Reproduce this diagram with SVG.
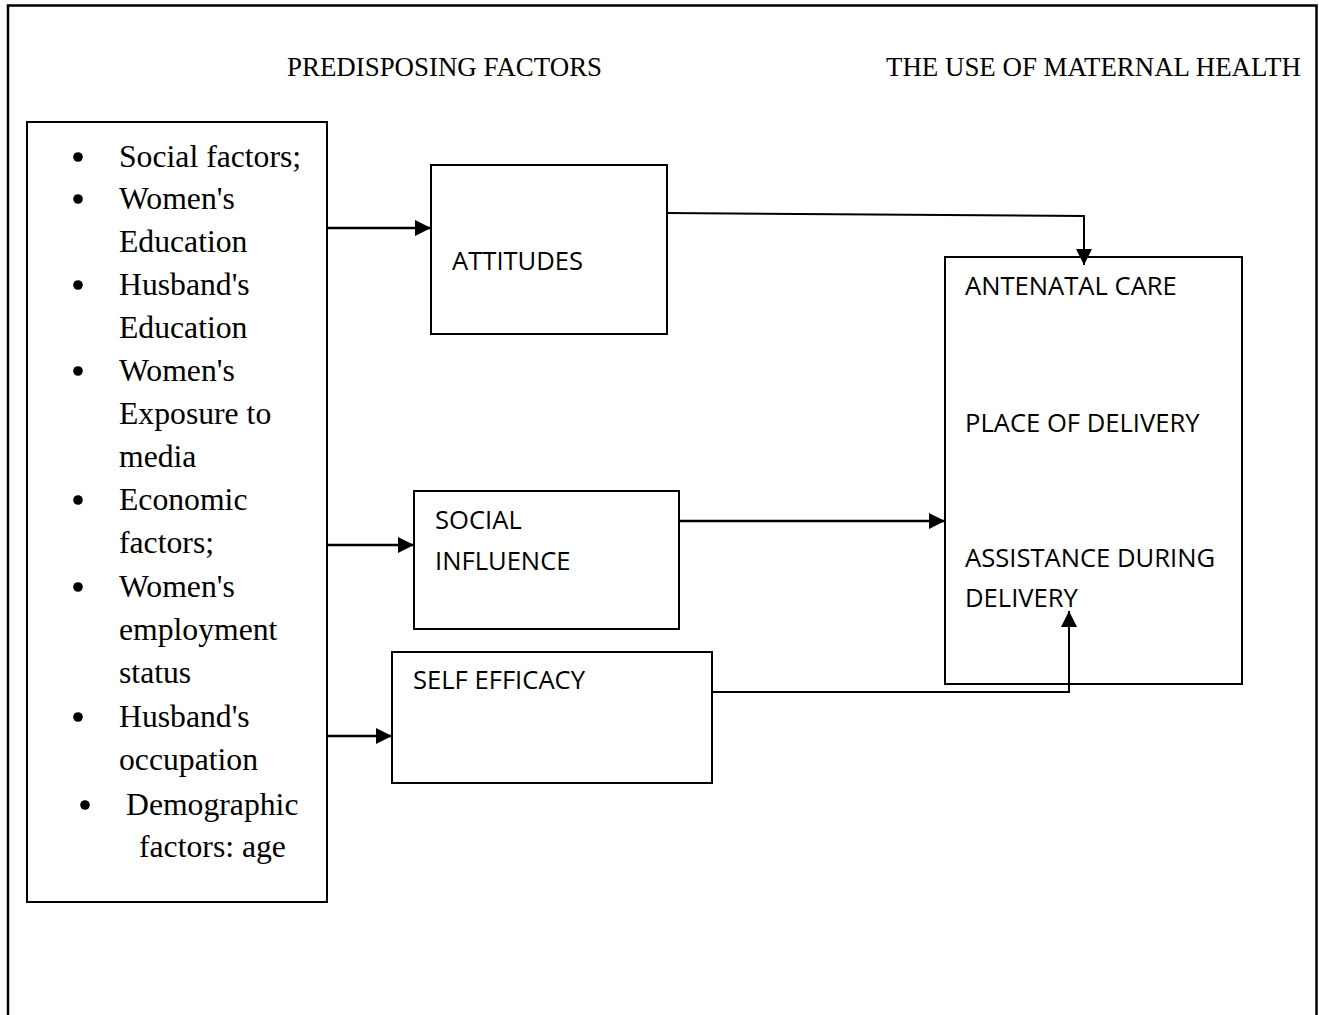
<svg xmlns="http://www.w3.org/2000/svg" width="1319" height="1015" viewBox="0 0 1319 1015">
<style>
.box{fill:#fff;stroke:#000;stroke-width:2}
.tnr{font-family:"Liberation Serif","Times New Roman",serif;fill:#000}
.lst{font-size:31.7px}
.hd{font-size:26.9px}
.cal{font-family:"Open Sans","Noto Sans",sans-serif;font-size:25.6px;fill:#000}
.con{fill:none;stroke:#000;stroke-width:2.5}
.thin{fill:none;stroke:#000;stroke-width:2}
</style>
<defs>
<marker id="ah" markerWidth="16" markerHeight="16" viewBox="0 0 16 16" refX="16" refY="8" orient="auto" markerUnits="userSpaceOnUse">
<path d="M0,0 L16,8 L0,16 Z" fill="#000"/>
</marker>
</defs>
<rect width="1319" height="1015" fill="#fff"/>
<path d="M8,1015 V5.5 H1316.5 V1015" fill="none" stroke="#000" stroke-width="2.5"/>
<g id="headings">
<text class="tnr hd" x="287" y="76">PREDISPOSING FACTORS</text>
<text class="tnr hd" x="886" y="76">THE USE OF MATERNAL HEALTH</text>
</g>
<g id="predisposing">
<rect class="box" x="27" y="122" width="300" height="780"/>
<g fill="#000">
<circle cx="78" cy="157" r="4.8"/>
<circle cx="78" cy="199" r="4.8"/>
<circle cx="78" cy="285" r="4.8"/>
<circle cx="78" cy="371" r="4.8"/>
<circle cx="78" cy="500" r="4.8"/>
<circle cx="78" cy="587" r="4.8"/>
<circle cx="78" cy="717" r="4.8"/>
<circle cx="85" cy="805" r="4.8"/>
</g>
<g class="tnr lst">
<text x="119" y="167">Social factors;</text>
<text x="119" y="209">Women's</text>
<text x="119" y="252">Education</text>
<text x="119" y="295">Husband's</text>
<text x="119" y="338">Education</text>
<text x="119" y="381">Women's</text>
<text x="119" y="424">Exposure to</text>
<text x="119" y="467">media</text>
<text x="119" y="510">Economic</text>
<text x="119" y="553">factors;</text>
<text x="119" y="597">Women's</text>
<text x="119" y="640">employment</text>
<text x="119" y="683">status</text>
<text x="119" y="727">Husband's</text>
<text x="119" y="770">occupation</text>
<text x="126" y="815">Demographic</text>
<text x="139" y="857">factors: age</text>
</g>
</g>
<g id="attitudes">
<rect class="box" x="431" y="165" width="236" height="169"/>
<text class="cal" x="452" y="270">ATTITUDES</text>
</g>
<g id="social-influence">
<rect class="box" x="414" y="491" width="265" height="138"/>
<text class="cal" x="435" y="529">SOCIAL</text>
<text class="cal" x="435" y="570">INFLUENCE</text>
</g>
<g id="self-efficacy">
<rect class="box" x="392" y="652" width="320" height="131"/>
<text class="cal" x="413" y="689">SELF EFFICACY</text>
</g>
<g id="maternal-health">
<rect class="box" x="945" y="257" width="297" height="427"/>
<text class="cal" x="965" y="295">ANTENATAL CARE</text>
<text class="cal" x="965" y="432">PLACE OF DELIVERY</text>
<text class="cal" x="965" y="567">ASSISTANCE DURING</text>
<text class="cal" x="965" y="607">DELIVERY</text>
</g>
<g id="connectors">
<line class="con" x1="328" y1="228" x2="431" y2="228" marker-end="url(#ah)"/>
<line class="con" x1="328" y1="545" x2="414" y2="545" marker-end="url(#ah)"/>
<line class="con" x1="328" y1="736" x2="392" y2="736" marker-end="url(#ah)"/>
<polyline class="thin" points="667,213 1084,216 1084,265" marker-end="url(#ah)"/>
<line class="con" x1="679" y1="521" x2="945" y2="521" marker-end="url(#ah)"/>
<polyline class="thin" points="712,692 1069,692 1069,611" marker-end="url(#ah)"/>
</g>
</svg>
